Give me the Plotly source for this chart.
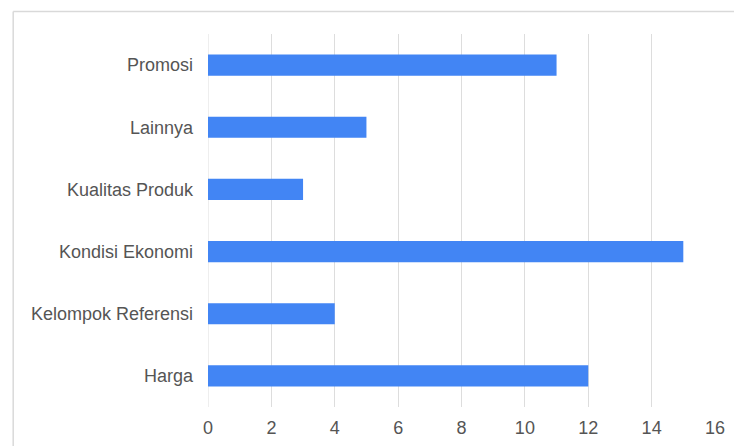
import plotly.graph_objects as go

categories = ["Harga", "Kelompok Referensi", "Kondisi Ekonomi", "Kualitas Produk", "Lainnya", "Promosi"]
values = [12, 4, 15, 3, 5, 11]
x_ticks = [0, 2, 4, 6, 8, 10, 12, 14, 16]

W, H = 734, 446
L, R, T, B = 207.5, 19, 34, 39
pw = W - L - R
ph = H - T - B

fig = go.Figure(go.Bar(
    x=values, y=categories, orientation="h",
    marker=dict(color="#4285f4", line=dict(width=0)),
    width=0.34,
))

frame_x = (12.5 - L) / pw
frame_y = (H - B - 11.5) / ph

fig.update_layout(
    width=W, height=H,
    margin=dict(l=L, r=R, t=T, b=B, pad=0, autoexpand=False),
    paper_bgcolor="white", plot_bgcolor="white",
    font=dict(family="Liberation Sans, Arial", size=18, color="#555555"),
    showlegend=False,
    xaxis=dict(range=[0, 16], tickvals=x_ticks, showgrid=True, gridcolor="#dddddd",
               gridwidth=1, zeroline=False, showline=False, ticks="",
               ticklabelstandoff=8, fixedrange=True, automargin=False),
    yaxis=dict(categoryorder="array", categoryarray=categories, showgrid=False,
               zeroline=False, showline=False, ticks="", ticklabelstandoff=14,
               range=[-0.5, 5.5], automargin=False),
    shapes=[
        dict(type="line", xref="paper", yref="paper", x0=frame_x, x1=frame_x,
             y0=-1, y1=frame_y, line=dict(color="#d9d9d9", width=1.5)),
        dict(type="line", xref="paper", yref="paper", x0=frame_x, x1=2,
             y0=frame_y, y1=frame_y, line=dict(color="#d9d9d9", width=1.5)),
        dict(type="line", xref="x", yref="paper", x0=0, x1=0, y0=0, y1=1,
             line=dict(color="#dddddd", width=1), layer="below"),
    ],
)

fig.write_html("out.html")
